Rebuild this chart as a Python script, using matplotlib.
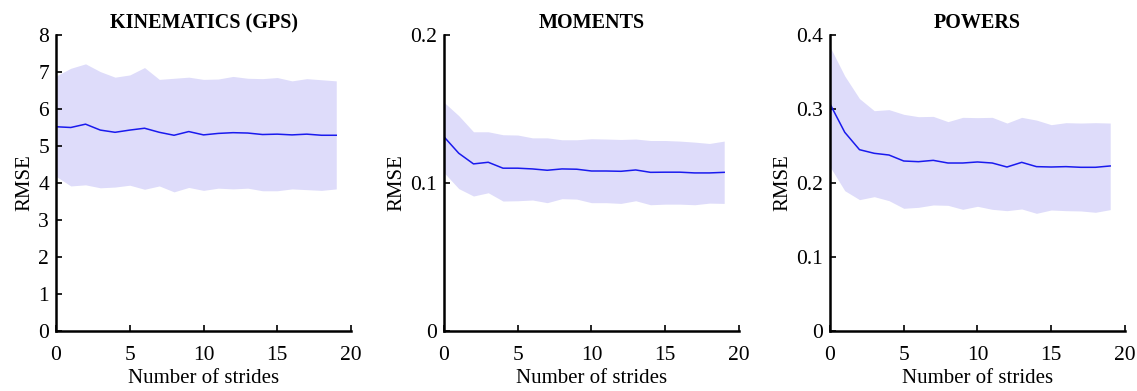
import numpy as np
import matplotlib
matplotlib.use("Agg")
import matplotlib.pyplot as plt

plt.rcParams['font.family'] = ['Liberation Serif', 'DejaVu Serif']

strides = np.arange(20)

# kinematics (GPS)
kin_mean = [5.52, 5.50, 5.59, 5.43, 5.37, 5.43, 5.48, 5.37, 5.29, 5.39,
            5.30, 5.34, 5.36, 5.35, 5.31, 5.32, 5.30, 5.32, 5.29, 5.29]
kin_upper = [6.89, 7.10, 7.22, 7.01, 6.86, 6.92, 7.12, 6.80, 6.83, 6.86,
             6.80, 6.81, 6.88, 6.83, 6.82, 6.85, 6.76, 6.82, 6.79, 6.76]
kin_lower = [4.18, 3.92, 3.95, 3.87, 3.89, 3.94, 3.83, 3.92, 3.76, 3.88,
             3.80, 3.86, 3.84, 3.86, 3.79, 3.79, 3.84, 3.82, 3.80, 3.84]

# moments
mom_mean = [0.1312, 0.1201, 0.1129, 0.1140, 0.1100, 0.1100, 0.1095, 0.1086, 0.1095, 0.1093,
            0.1081, 0.1081, 0.1079, 0.1088, 0.1072, 0.1073, 0.1073, 0.1068, 0.1068, 0.1072]
mom_upper = [0.1545, 0.1455, 0.1346, 0.1346, 0.1326, 0.1324, 0.1305, 0.1305, 0.1292, 0.1292,
             0.1299, 0.1297, 0.1294, 0.1297, 0.1287, 0.1287, 0.1283, 0.1276, 0.1267, 0.1283]
mom_lower = [0.1070, 0.0962, 0.0912, 0.0934, 0.0878, 0.0880, 0.0885, 0.0867, 0.0894, 0.0891,
             0.0867, 0.0867, 0.0862, 0.0880, 0.0853, 0.0857, 0.0857, 0.0853, 0.0864, 0.0862]

# powers
pow_mean = [0.3068, 0.2685, 0.2450, 0.2401, 0.2378, 0.2297, 0.2288, 0.2306, 0.2270, 0.2270,
            0.2284, 0.2270, 0.2216, 0.2279, 0.2221, 0.2216, 0.2221, 0.2212, 0.2212, 0.2230]
pow_upper = [0.384, 0.3446, 0.314, 0.2977, 0.2991, 0.2928, 0.2896, 0.2900, 0.2829, 0.2887,
             0.2883, 0.2887, 0.2810, 0.2887, 0.2850, 0.2788, 0.2815, 0.2810, 0.2815, 0.2810]
pow_lower = [0.222, 0.1896, 0.1775, 0.1815, 0.1761, 0.1658, 0.1671, 0.1703, 0.1698, 0.1644,
             0.1685, 0.1644, 0.1626, 0.1649, 0.1590, 0.1635, 0.1626, 0.1622, 0.1604, 0.1640]

titles = ['KINEMATICS (GPS)', 'MOMENTS', 'POWERS']
means = [kin_mean, mom_mean, pow_mean]
uppers = [kin_upper, mom_upper, pow_upper]
lowers = [kin_lower, mom_lower, pow_lower]
yticks = [[0, 1, 2, 3, 4, 5, 6, 7, 8], [0, 0.1, 0.2], [0, 0.1, 0.2, 0.3, 0.4]]
ylims = [(0, 8), (0, 0.2), (0, 0.4)]

fig = plt.figure(figsize=(11.37, 3.91), dpi=100)
lefts = [0.0493, 0.3905, 0.730]

for i in range(3):
    ax = fig.add_axes([lefts[i], 0.1535, 0.2594, 0.757])
    ax.fill_between(strides, lowers[i], uppers[i], color='#dedcfa', linewidth=0)
    ax.plot(strides, means[i], color='#1a1aee', linewidth=1.1)
    ax.set_xlim(0, 20)
    ax.set_ylim(*ylims[i])
    ax.set_xticks([0, 5, 10, 15, 20])
    ax.set_yticks(yticks[i])
    ax.set_yticklabels([('%g' % t) for t in yticks[i]])
    ax.spines['top'].set_visible(False)
    ax.spines['right'].set_visible(False)
    ax.spines['left'].set_linewidth(1.8)
    ax.spines['bottom'].set_linewidth(1.8)
    ax.tick_params(direction='in', length=4, width=1.2, labelsize=15.5)
    ax.tick_params(axis='x', pad=11)
    ax.tick_params(axis='y', pad=5)
    ax.set_title(titles[i], fontsize=14.5, fontweight='bold', pad=5)
    ax.set_xlabel('Number of strides', fontsize=15, labelpad=3)
    ax.set_ylabel('RMSE', fontsize=15, labelpad=3)

fig.savefig('out.png', dpi=100)
